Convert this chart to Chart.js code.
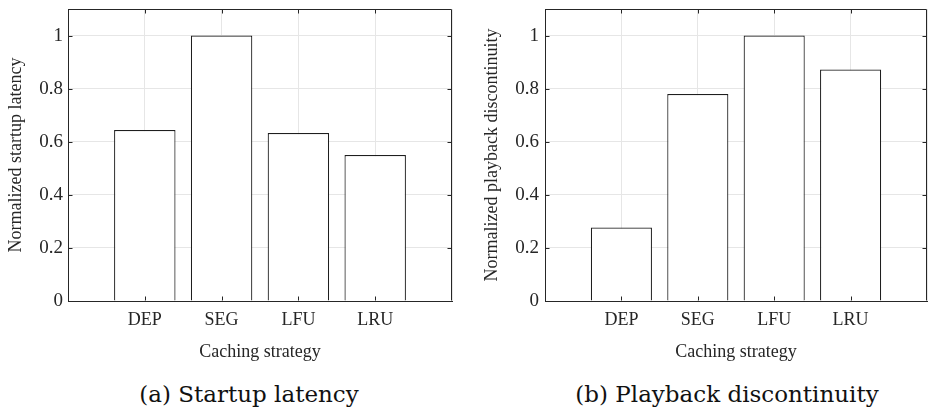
<!DOCTYPE html>
<html><head><meta charset="utf-8">
<script src="https://cdn.jsdelivr.net/npm/chart.js@4.4.0/dist/chart.umd.min.js"></script>
<style>
html,body{margin:0;padding:0;background:#fff;width:928px;height:410px;overflow:hidden}
.panel{position:absolute;top:0;width:464px;height:370px}
.cap{position:absolute;font-family:'DejaVu Serif';font-size:23px;line-height:27px;color:#111;white-space:nowrap;transform:translateX(-50%);}
</style></head><body>
<div class="panel" style="left:0"><canvas id="c1" width="464" height="370"></canvas></div>
<div class="panel" style="left:464px"><canvas id="c2" width="464" height="370"></canvas></div>
<div class="cap" style="left:249px;top:381px">(a) Startup latency</div>
<div class="cap" style="left:727px;top:381px">(b) Playback discontinuity</div>
<script>
const categories = ['DEP', 'SEG', 'LFU', 'LRU'];
const startupLatency = [0.644, 1.0, 0.633, 0.55];
const playbackDiscontinuity = [0.277, 0.78, 1.0, 0.872];
const yTicks = [0, 0.2, 0.4, 0.6, 0.8, 1];
const yMax = 1.1;
const xTitle = 'Caching strategy';

Chart.defaults.font.family = "'Liberation Serif', serif";
Chart.defaults.color = '#262626';

const framePlugin = {
  id: 'frame',
  afterDatasetsDraw(chart) {
    const {ctx, chartArea, scales} = chart;
    const l = Math.round(chartArea.left) + 0.5, r = Math.round(chartArea.right) - 0.5;
    const t = Math.round(chartArea.top) + 0.5, b = Math.round(chartArea.bottom) - 0.5;
    ctx.save();
    ctx.strokeStyle = '#262626';
    ctx.lineWidth = 1;
    ctx.beginPath();
    ctx.moveTo(l, t); ctx.lineTo(r, t); ctx.lineTo(r, b);
    const tl = 4;
    yTicks.forEach(v => {
      const py = Math.round(scales.y.getPixelForValue(v)) + 0.5;
      ctx.moveTo(l, py); ctx.lineTo(l + tl, py);
      ctx.moveTo(r, py); ctx.lineTo(r - tl, py);
    });
    categories.forEach((c, i) => {
      const px = Math.round(scales.x.getPixelForValue(i + 1)) + 0.5;
      ctx.moveTo(px, t); ctx.lineTo(px, t + tl);
      ctx.moveTo(px, b); ctx.lineTo(px, b - tl);
    });
    ctx.stroke();
    ctx.restore();
  }
};

function makeChart(id, values, yTitle, cfg) {
  const labels = ['', ...categories, ''];
  const data = [null, ...values, null];
  return new Chart(document.getElementById(id), {
    type: 'bar',
    data: {
      labels,
      datasets: [{
        data,
        backgroundColor: '#ffffff',
        borderColor: '#1e1e1e',
        borderWidth: 1.2,
        barPercentage: 0.8,
        categoryPercentage: 1.0
      }]
    },
    options: {
      responsive: false,
      animation: false,
      events: [],
      layout: {padding: {top: 9, right: cfg.padRight, left: 0, bottom: 0}},
      plugins: {legend: {display: false}, tooltip: {enabled: false}},
      scales: {
        x: {
          offset: false,
          grid: {offset: false, color: '#e6e6e6', drawTicks: false},
          border: {color: '#262626', width: 1},
          ticks: {font: {size: 18}, padding: 8, color: '#262626', autoSkip: false, maxRotation: 0},
          title: {display: true, text: xTitle, font: {size: 18, lineHeight: 1}, padding: {top: 0, bottom: 9}, color: '#262626'},
          afterFit(s) { s.height = 69; s.paddingLeft = 0; s.paddingRight = 0; }
        },
        y: {
          min: 0, max: yMax,
          grid: {color: '#e6e6e6', drawTicks: false},
          border: {color: '#262626', width: 1},
          afterBuildTicks(s) { s.ticks = yTicks.map(v => ({value: v})); },
          ticks: {font: {size: 19}, padding: cfg.yPad, color: '#262626',
                  callback: v => String(Math.round(v * 10) / 10)},
          title: {display: true, text: yTitle, font: {size: 18, lineHeight: 1}, padding: {top: cfg.titlePad, bottom: 0}, color: '#262626'},
          afterFit(s) { s.width = cfg.yWidth; s.paddingTop = 0; s.paddingBottom = 0; }
        }
      }
    },
    plugins: [framePlugin]
  });
}

makeChart('c1', startupLatency, 'Normalized startup latency', {padRight: 12, yWidth: 68, yPad: 5, titlePad: 7});
makeChart('c2', playbackDiscontinuity, 'Normalized playback discontinuity', {padRight: 1, yWidth: 81, yPad: 6, titlePad: 19});
</script>
</body></html>
